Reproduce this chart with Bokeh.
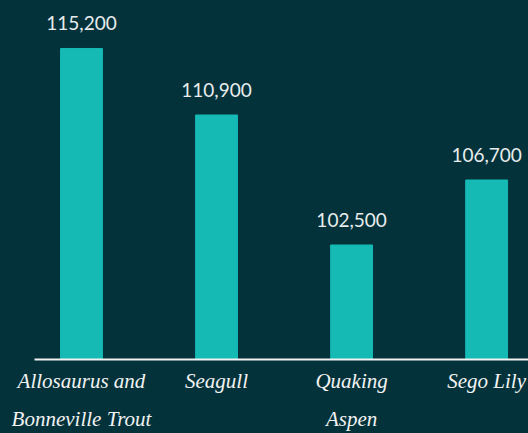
from bokeh.plotting import figure
from bokeh.models import Range1d, FixedTicker, ColumnDataSource, LabelSet
from bokeh.core.properties import value
from bokeh.embed import file_html
from bokeh.resources import INLINE

categories = ["Allosaurus and\nBonneville Trout", "Seagull", "Quaking\nAspen", "Sego Lily"]
values = [115200, 110900, 102500, 106700]
value_labels = ["115,200", "110,900", "102,500", "106,700"]

BG = "#03323b"
BAR = "#15bab5"
Y0 = 95100

xs = list(range(len(categories)))
src = ColumnDataSource(dict(x=xs, top=values, lab=value_labels))

p = figure(width=528, height=433, output_backend="svg", toolbar_location=None,
           x_range=Range1d(-0.348, 3.31), y_range=Range1d(Y0, 118300),
           min_border_left=34, min_border_right=0, min_border_top=0, min_border_bottom=0)
p.background_fill_color = None
p.border_fill_color = None
p.styles = {"background-color": BG}
p.outline_line_color = None
p.grid.visible = False
p.yaxis.visible = False

p.vbar(x="x", top="top", bottom=Y0, width=0.31, color=BAR, source=src)

labels = LabelSet(x="x", y="top", text="lab", source=src, text_align="center",
                  text_baseline="bottom", y_offset=18, text_color="#e8ecec",
                  text_font=value("Lato"), text_font_size="19px")
p.add_layout(labels)

ax = p.xaxis[0]
ax.ticker = FixedTicker(ticks=xs)
ax.major_label_overrides = {i: c for i, c in enumerate(categories)}
ax.axis_line_color = "#f2f2f2"
ax.axis_line_width = 2
ax.major_tick_line_color = None
ax.minor_tick_line_color = None
ax.major_label_text_color = "#f2f2f2"
ax.major_label_text_font = "Liberation Serif"
ax.major_label_text_font_style = "italic"
ax.major_label_text_font_size = "21px"
ax.major_label_text_line_height = 1.6
ax.major_label_standoff = 3

html = file_html(p, INLINE)
html = html.replace("<body>", '<body style="background:%s;overflow:hidden">' % BG, 1)
open("out.html", "w").write(html)
